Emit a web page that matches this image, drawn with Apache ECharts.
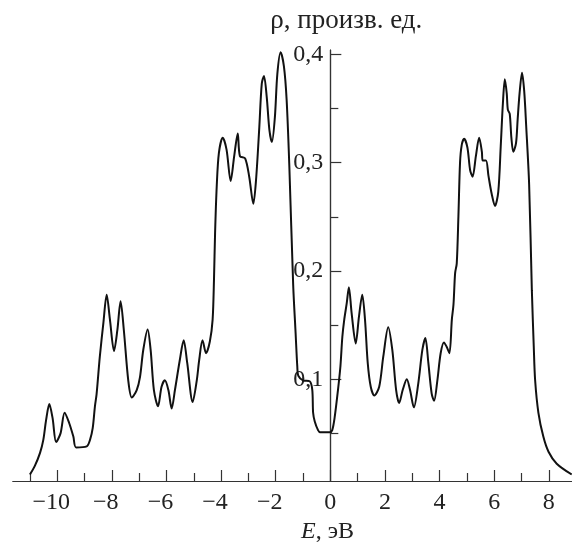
<!DOCTYPE html>
<html>
<head>
<meta charset="utf-8">
<script src="https://cdn.jsdelivr.net/npm/echarts@6/dist/echarts.min.js"></script>
<style>
html,body{margin:0;padding:0;background:#fff;}
#chart{width:572px;height:542px;}
</style>
</head>
<body>
<div id="chart"></div>
<script>
// Energy E (eV)
const energy = [
  -11.00,-10.82,-10.63,-10.51,-10.41,-10.29,-10.17,-10.04,-9.88,-9.73,-9.57,-9.41,-9.31,-8.92,-8.80,-8.70,-8.62,-8.56,-8.44,-8.31,
  -8.19,-8.07,-7.92,-7.80,-7.68,-7.56,-7.40,-7.27,-7.09,-6.97,-6.85,-6.69,-6.58,-6.46,-6.31,-6.18,-6.06,-5.93,-5.81,-5.69,
  -5.51,-5.37,-5.24,-5.04,-4.89,-4.80,-4.68,-4.55,-4.41,-4.31,-4.26,-4.22,-4.16,-4.08,-3.94,-3.80,-3.65,-3.52,-3.39,-3.31,
  -3.12,-2.97,-2.82,-2.72,-2.60,-2.51,-2.43,-2.33,-2.23,-2.14,-2.03,-1.94,-1.82,-1.70,-1.60,-1.50,-1.36,-1.27,-1.21,-1.17,
  -1.00,-0.75,-0.66,-0.63,-0.57,-0.45,-0.37,-0.02,0.07,0.16,0.28,0.37,0.44,0.51,0.60,0.68,0.78,0.93,1.05,1.17,
  1.27,1.37,1.48,1.61,1.79,1.94,2.12,2.27,2.41,2.52,2.65,2.80,2.92,3.06,3.22,3.37,3.48,3.59,3.71,3.80,
  3.92,4.04,4.16,4.26,4.36,4.45,4.51,4.57,4.63,4.69,4.75,4.81,4.90,5.02,5.12,5.21,5.33,5.45,5.55,5.58,
  5.70,5.79,5.91,6.03,6.15,6.24,6.32,6.39,6.46,6.50,6.57,6.63,6.70,6.80,6.86,6.93,7.02,7.10,7.17,7.28,
  7.38,7.45,7.50,7.62,7.80,7.99,8.29,8.84
];
// Density of states rho (arb. units)
const rho = [
  0.012,0.020,0.032,0.044,0.062,0.077,0.064,0.042,0.050,0.069,0.060,0.047,0.037,0.038,0.044,0.055,0.075,0.086,0.121,0.152,
  0.178,0.155,0.126,0.145,0.172,0.145,0.099,0.083,0.090,0.102,0.127,0.146,0.127,0.090,0.075,0.093,0.099,0.090,0.073,0.090,
  0.118,0.136,0.115,0.079,0.099,0.118,0.136,0.124,0.135,0.155,0.192,0.235,0.278,0.309,0.323,0.312,0.283,0.306,0.327,0.306,
  0.304,0.287,0.262,0.284,0.333,0.373,0.380,0.361,0.330,0.319,0.342,0.382,0.402,0.389,0.358,0.296,0.187,0.142,0.112,0.103,
  0.099,0.098,0.090,0.069,0.061,0.053,0.051,0.051,0.053,0.065,0.090,0.112,0.139,0.155,0.170,0.185,0.161,0.133,0.158,0.178,
  0.155,0.115,0.093,0.085,0.093,0.121,0.148,0.127,0.090,0.078,0.090,0.100,0.090,0.074,0.096,0.127,0.138,0.115,0.087,0.080,
  0.099,0.124,0.134,0.130,0.124,0.155,0.169,0.198,0.207,0.250,0.300,0.316,0.322,0.314,0.293,0.287,0.306,0.323,0.310,0.302,
  0.302,0.288,0.271,0.260,0.273,0.315,0.355,0.377,0.364,0.349,0.345,0.323,0.310,0.318,0.340,0.364,0.383,0.366,0.335,0.280,
  0.182,0.130,0.099,0.069,0.047,0.033,0.022,0.012
];
const xMajorTicks = [-10,-8,-6,-4,-2,0,2,4,6,8];
const xMinorTicks = [-11,-9,-7,-5,-3,-1,1,3,5,7];
const yMajorTicks = [0.1,0.2,0.3,0.4];
const yMinorTicks = [0.05,0.15,0.25,0.35];
const yLabels = [0.1,0.2,0.3,0.4];
const xName = '{i|E}, эВ';
const yName = 'ρ, произв. ед.';

const FONT = 'Liberation Serif';
const AXC = '#333';
const xMin = -11.62, xMax = 8.85, yMin = 0.006, yMax = 0.404;
const GRID_LEFT = 13;

const chart = echarts.init(document.getElementById('chart'), null, {renderer:'canvas'});
const pts = energy.map((e,i)=>[e, rho[i]]);

function yAxisCommon(){
  return {type:'value', min:yMin, max:yMax, position:'left', offset:0,
    axisLine:{show:true,onZero:false,lineStyle:{color:AXC,width:1.2}},
    splitLine:{show:false}};
}

chart.setOption({
  animation:false,
  backgroundColor:'#fff',
  grid:{left:GRID_LEFT,right:0,top:50,bottom:61,containLabel:false,outerBoundsMode:'none'},
  xAxis:[{
    type:'value', min:xMin, max:xMax, position:'bottom',
    axisLine:{show:true,onZero:false,lineStyle:{color:AXC,width:1.2}},
    axisTick:{show:true,inside:true,length:11,customValues:xMajorTicks,lineStyle:{color:AXC,width:1.2}},
    axisLabel:{show:true,customValues:xMajorTicks,margin:10,fontSize:24,fontFamily:FONT,color:'#222',
      formatter:function(v){ return v<0 ? '\u2212'+(-v)+'\u00a0\u00a0' : String(v); }},
    splitLine:{show:false},
    name:xName, nameLocation:'middle', nameGap:34,
    nameTextStyle:{fontSize:24,fontFamily:FONT,color:'#222',padding:[0,0,0,70],
      rich:{i:{fontStyle:'italic',fontSize:24,fontFamily:FONT,color:'#222'}}}
  },{
    type:'value', min:xMin, max:xMax, position:'bottom',
    axisLine:{show:true,onZero:false,lineStyle:{color:AXC,width:1.2}},
    axisTick:{show:true,inside:true,length:8,customValues:xMinorTicks,lineStyle:{color:AXC,width:1.2}},
    axisLabel:{show:false},
    splitLine:{show:false}
  }],
  yAxis:[Object.assign(yAxisCommon(),{
    axisTick:{show:true,inside:true,length:11,customValues:yMajorTicks,lineStyle:{color:AXC,width:1.2}},
    axisLabel:{show:true,customValues:yLabels,margin:7,fontSize:24,fontFamily:FONT,color:'#222',
      formatter:function(v){ return v.toFixed(1).replace('.',','); }},
    name:yName, nameLocation:'end', nameGap:16,
    nameTextStyle:{fontSize:27,fontFamily:FONT,color:'#222',padding:[0,0,0,32]}
  }), Object.assign(yAxisCommon(),{
    axisTick:{show:true,inside:true,length:8,customValues:yMinorTicks,lineStyle:{color:AXC,width:1.2}},
    axisLabel:{show:false}
  })],
  series:[{
    type:'line', xAxisIndex:0, yAxisIndex:0, data:pts,
    smooth:0.3, showSymbol:false, symbol:'none',
    lineStyle:{color:'#111',width:2},
    clip:false
  }]
});

// place the vertical axis at E = 0 (labels move with it)
const zeroPx = chart.convertToPixel({xAxisIndex:0}, 0);
const off = GRID_LEFT - zeroPx;
chart.setOption({yAxis:[{offset:off},{offset:off}]});
</script>
</body>
</html>
